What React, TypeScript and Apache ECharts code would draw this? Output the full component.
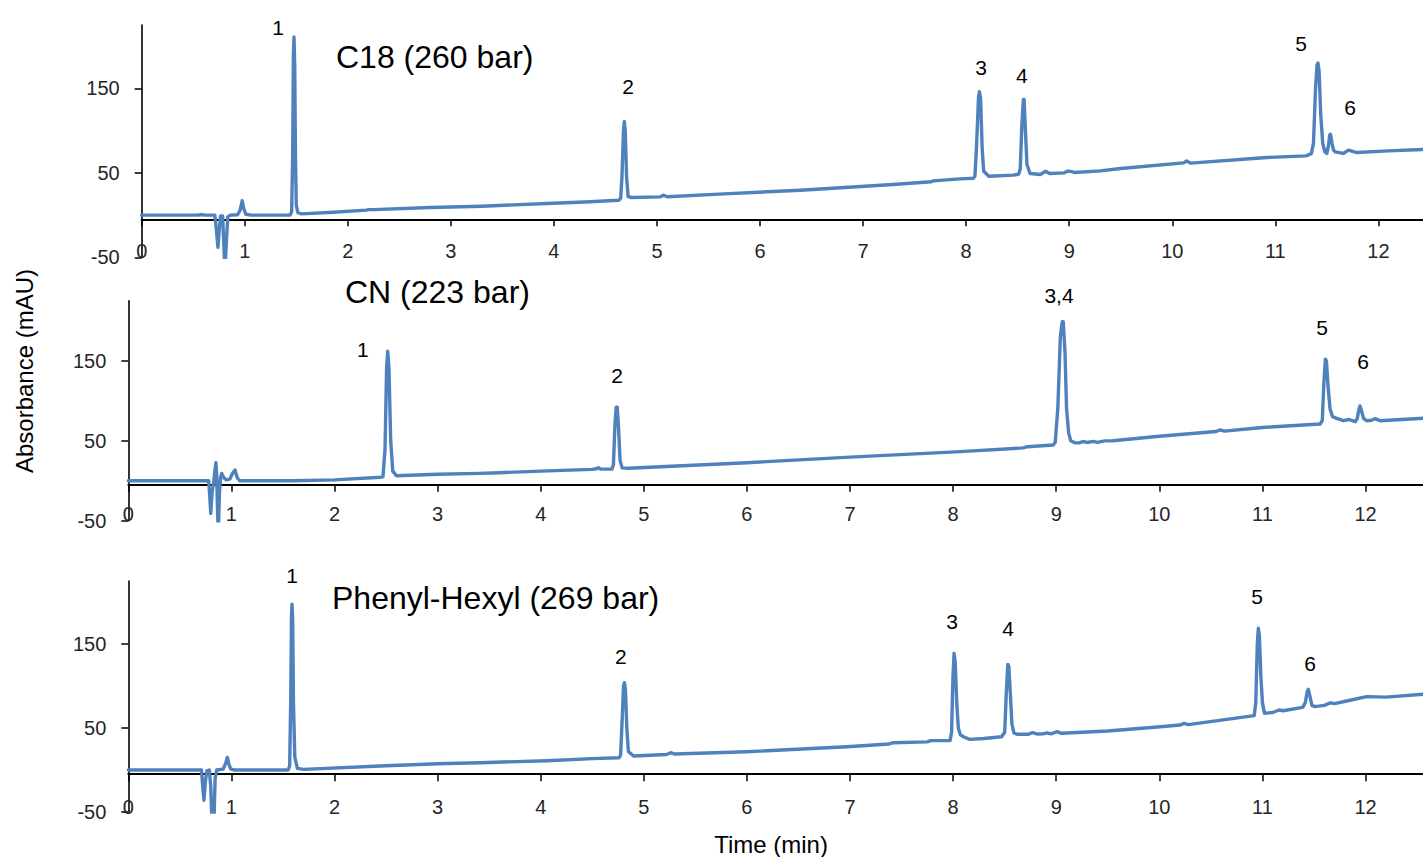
import React, { useEffect, useRef } from "react";
import * as echarts from "echarts";

// ---- Data (retention time in min, absorbance in mAU) ----
const c18Trace: [number, number][] = [
  [0, 0], [0.55, 0], [0.58, 0.8], [0.61, 0], [0.71, 0],
  [0.725, -18], [0.74, -38], [0.752, -18], [0.765, -1], [0.785, -1],
  [0.797, -35], [0.807, -65], [0.82, -35], [0.835, -2], [0.86, 0], [0.93, 0.5],
  [0.955, 6], [0.975, 17], [0.99, 8], [1.01, 1], [1.06, 0],
  [1.44, 0], [1.455, 4], [1.465, 70], [1.472, 190], [1.478, 211], [1.485, 175], [1.492, 70], [1.5, 12], [1.515, 3], [1.55, 1.5],
  [1.86, 3.5], [2.18, 5.9], [2.2, 6.5], [2.25, 6.5], [2.8, 9], [3.3, 10.6], [3.93, 13.8], [4.3, 15.5], [4.63, 17.7],
  [4.648, 20], [4.66, 45], [4.675, 100], [4.683, 111], [4.692, 100], [4.705, 45], [4.72, 22], [4.755, 20.9],
  [5.03, 21.6], [5.06, 23.6], [5.1, 21.8], [5.7, 25.5], [6.39, 29.5], [7.29, 36.3], [7.66, 39.5], [7.68, 40.5], [7.94, 42.9], [8.07, 43.7],
  [8.085, 46], [8.1, 80], [8.12, 140], [8.129, 146], [8.14, 138], [8.155, 80], [8.17, 52], [8.22, 46.1],
  [8.46, 47.3], [8.51, 48.5],
  [8.525, 55], [8.54, 105], [8.555, 137], [8.562, 137], [8.575, 100], [8.59, 60], [8.62, 49.3],
  [8.72, 48.1], [8.77, 52], [8.81, 49.3], [8.95, 50], [8.98, 52], [9.0, 52], [9.05, 50.5], [9.3, 52.4], [9.5, 55.2],
  [10.11, 61.8], [10.14, 64.2], [10.18, 61.5], [10.92, 68.2], [11.3, 70.1], [11.35, 73],
  [11.37, 85], [11.39, 150], [11.405, 178], [11.414, 180], [11.425, 170], [11.44, 120], [11.46, 85], [11.48, 75], [11.5, 73],
  [11.515, 82], [11.528, 95], [11.535, 95.8], [11.55, 85], [11.565, 77], [11.58, 74.9],
  [11.66, 73], [11.71, 76.9], [11.79, 74.1], [12.1, 76], [12.43, 77.7],
];

const cnTrace: [number, number][] = [
  [0, 0], [0.78, 0], [0.79, -20], [0.8, -41], [0.812, -15], [0.83, 0], [0.842, 15], [0.85, 22.5], [0.858, 5],
  [0.866, -40], [0.873, -65], [0.884, -15], [0.895, 4], [0.906, 9], [0.925, 4], [0.95, 1], [0.985, 2],
  [1.01, 9], [1.035, 13.4], [1.055, 4], [1.08, 0], [1.6, 0], [2.0, 1], [2.45, 4.3],
  [2.47, 5], [2.49, 40], [2.505, 140], [2.516, 162], [2.528, 140], [2.545, 50], [2.565, 12], [2.6, 6.25],
  [3.0, 8], [3.41, 9.2], [3.6, 10], [4.0, 12], [4.5, 14.2], [4.54, 15], [4.56, 16.3], [4.58, 14.5], [4.69, 14.5],
  [4.705, 20], [4.72, 70], [4.732, 92], [4.742, 92], [4.755, 65], [4.77, 25], [4.79, 16], [4.85, 15.5],
  [6.0, 22.5], [7.0, 29.5], [8.07, 36.3], [8.68, 41], [8.72, 42.5], [8.97, 44.6],
  [8.99, 48], [9.015, 90], [9.04, 180], [9.058, 198.7], [9.068, 198.7], [9.085, 160], [9.1, 90], [9.12, 60], [9.14, 50], [9.18, 47.5],
  [9.22, 47.3], [9.26, 49], [9.3, 47.8], [9.36, 49.2], [9.4, 47.8], [9.47, 49.8], [9.55, 50],
  [10.0, 55.5], [10.55, 61.5], [10.59, 63.5], [10.63, 62], [11.0, 66.5], [11.56, 70.9],
  [11.58, 75], [11.595, 120], [11.61, 152], [11.62, 150], [11.635, 120], [11.655, 90], [11.68, 80], [11.72, 78],
  [11.785, 75], [11.84, 76.5], [11.9, 73.8],
  [11.92, 78], [11.937, 90], [11.946, 93.4], [11.96, 88], [11.98, 78], [12.01, 75],
  [12.06, 75.5], [12.09, 77.6], [12.14, 75], [12.56, 78],
];

const phenylTrace: [number, number][] = [
  [0, 0], [0.71, 0], [0.722, -20], [0.734, -36], [0.746, -15], [0.762, -1], [0.786, 0],
  [0.8, -20], [0.812, -65], [0.83, -65], [0.842, -10], [0.857, 0], [0.92, 1],
  [0.945, 8], [0.96, 15], [0.975, 7], [0.995, 1], [1.03, 0], [1.55, 0],
  [1.565, 5], [1.575, 80], [1.583, 185], [1.588, 197.3], [1.594, 180], [1.602, 80], [1.615, 15], [1.64, 2], [1.7, 0.8],
  [2.5, 5], [3.0, 7.5], [3.41, 8.7], [4.06, 11.1], [4.5, 13.5], [4.76, 14.6],
  [4.775, 18], [4.79, 60], [4.803, 100], [4.812, 103.9], [4.822, 95], [4.835, 50], [4.85, 22], [4.9, 16.7],
  [5.22, 18.5], [5.26, 20.6], [5.3, 19], [6.0, 21.8], [6.97, 27.7], [7.38, 31], [7.42, 32.5], [7.75, 33.5], [7.78, 35], [7.97, 35],
  [7.985, 45], [7.998, 110], [8.009, 138.9], [8.02, 128], [8.035, 80], [8.05, 50], [8.07, 42], [8.1, 39.6],
  [8.16, 36.5], [8.3, 37.5], [8.47, 39.6],
  [8.5, 45], [8.515, 90], [8.53, 125.8], [8.54, 124], [8.555, 90], [8.57, 55], [8.59, 44], [8.62, 42.5],
  [8.73, 42.5], [8.77, 44.5], [8.82, 42.8], [8.87, 43], [8.91, 44.2], [8.95, 43], [9.01, 45.6], [9.05, 43.7],
  [9.5, 46.5], [10.01, 51.5], [10.2, 53.5], [10.24, 55.5], [10.28, 54], [10.85, 63.5], [10.92, 64.7],
  [10.935, 80], [10.95, 150], [10.96, 168.7], [10.97, 160], [10.985, 110], [11.0, 80], [11.02, 67.5],
  [11.06, 68], [11.1, 68.5], [11.16, 71.4], [11.2, 70.5], [11.39, 74.6],
  [11.415, 80], [11.435, 94], [11.445, 96], [11.46, 88], [11.48, 77], [11.51, 75.4],
  [11.6, 77], [11.66, 80], [11.7, 79], [11.85, 83], [12.01, 87.3], [12.2, 86.8], [12.56, 90.3],
];

// Peak number labels (position in data units: time, absorbance)
const c18Labels = [
  { text: "1", t: 1.323, v: 222 },
  { text: "2", t: 4.72, v: 152.6 },
  { text: "3", t: 8.144, v: 175.1 },
  { text: "4", t: 8.54, v: 165.6 },
  { text: "5", t: 11.25, v: 203.5 },
  { text: "6", t: 11.725, v: 127.8 },
];
const cnLabels = [
  { text: "1", t: 2.276, v: 163.4 },
  { text: "2", t: 4.74, v: 132.1 },
  { text: "3,4", t: 9.027, v: 230.9 },
  { text: "5", t: 11.578, v: 192.1 },
  { text: "6", t: 11.976, v: 149.6 },
];
const phenylLabels = [
  { text: "1", t: 1.588, v: 232.1 },
  { text: "2", t: 4.778, v: 135.7 },
  { text: "3", t: 7.99, v: 176.2 },
  { text: "4", t: 8.532, v: 169 },
  { text: "5", t: 10.947, v: 207.1 },
  { text: "6", t: 11.461, v: 126.2 },
];

const panelTitles = ["C18 (260 bar)", "CN (223 bar)", "Phenyl-Hexyl (269 bar)"];
const xTickValues = [0, 1, 2, 3, 4, 5, 6, 7, 8, 9, 10, 11, 12];
const yTickValues = [-50, 50, 150];
const yMin = -50;
const yMax = 225;
const xMaxes = [12.43, 12.56, 12.56];
const axisCross = -5; // x-axis crosses the y-axis at -5 mAU

const FONT = "'Liberation Sans', Arial, Helvetica, sans-serif";
const LINE_COLOR = "#4F81BD";

export default function App() {
  const ref = useRef<HTMLDivElement>(null);

  useEffect(() => {
    if (!ref.current) return;
    const chart = echarts.init(ref.current, undefined, { renderer: "svg" });

    const grids = [
      { left: 141.7, top: 25, width: 1281, height: 232.4 },
      { left: 128.3, top: 300.7, width: 1295, height: 220 },
      { left: 128.3, top: 581, width: 1295, height: 231 },
    ];
    const xLabelMargins = [-16.6, -16.5, -15.3];
    const traces = [c18Trace, cnTrace, phenylTrace];
    const labels = [c18Labels, cnLabels, phenylLabels];

    const option: any = {
      animation: false,
      grid: grids.map((g) => ({ ...g, containLabel: false, outerBoundsMode: "none" })),
      xAxis: grids.map((_, i) => ({
        type: "value",
        gridIndex: i,
        min: 0,
        max: xMaxes[i],
        axisLine: {
          show: true,
          onZero: true,
          onZeroAxisIndex: 3 + i,
          lineStyle: { color: "#000", width: 2 },
        },
        axisTick: { show: true, length: 7, customValues: xTickValues, lineStyle: { color: "#000", width: 1.5 } },
        axisLabel: {
          customValues: xTickValues,
          margin: xLabelMargins[i],
          fontSize: 20,
          color: "#262626",
          fontFamily: FONT,
        },
        splitLine: { show: false },
      })),
      yAxis: [
        ...grids.map((_, i) => ({
          type: "value",
          gridIndex: i,
          min: yMin,
          max: yMax,
          axisLine: { show: true, onZero: false, lineStyle: { color: "#000", width: 1.6 } },
          axisTick: { show: true, length: 7, customValues: yTickValues, lineStyle: { color: "#000", width: 1.5 } },
          axisLabel: {
            customValues: yTickValues,
            margin: 22,
            fontSize: 20,
            color: "#262626",
            fontFamily: FONT,
          },
          splitLine: { show: false },
        })),
        ...grids.map((_, i) => ({
          type: "value",
          gridIndex: i,
          min: yMin - axisCross,
          max: yMax - axisCross,
          show: false,
          splitLine: { show: false },
        })),
      ],
      series: traces.map((d, i) => ({
        type: "line",
        xAxisIndex: i,
        yAxisIndex: i,
        data: d,
        showSymbol: false,
        symbol: "none",
        clip: true,
        silent: true,
        lineStyle: { color: LINE_COLOR, width: 3.4, join: "round", cap: "round" },
      })),
    };
    chart.setOption(option);

    const titlePos = [
      { x: 336, y: 57 },
      { x: 345, y: 292 },
      { x: 332, y: 598 },
    ];
    const textStyle = (text: string, size: number, align: string) => ({
      text,
      fill: "#000",
      fontSize: size,
      fontFamily: FONT,
      align,
      textAlign: align,
      verticalAlign: "middle",
      textVerticalAlign: "middle",
    });
    const graphics: any[] = [];
    panelTitles.forEach((t, i) => {
      graphics.push({ type: "text", x: titlePos[i].x, y: titlePos[i].y, style: textStyle(t, 32, "left") });
    });
    labels.forEach((list, i) => {
      list.forEach((l) => {
        const p = chart.convertToPixel({ seriesIndex: i }, [l.t, l.v]) as number[];
        if (p) graphics.push({ type: "text", x: p[0], y: p[1], style: textStyle(l.text, 21, "center") });
      });
    });
    graphics.push({
      type: "text",
      x: 24,
      y: 371,
      rotation: Math.PI / 2,
      style: textStyle("Absorbance (mAU)", 24, "center"),
    });
    graphics.push({ type: "text", x: 771, y: 844, style: textStyle("Time (min)", 24, "center") });
    chart.setOption({ graphic: graphics });

    return () => chart.dispose();
  }, []);

  return (
    <div
      ref={ref}
      style={{ position: "fixed", left: 0, top: 0, width: 1423, height: 857, background: "#fff" }}
    />
  );
}
